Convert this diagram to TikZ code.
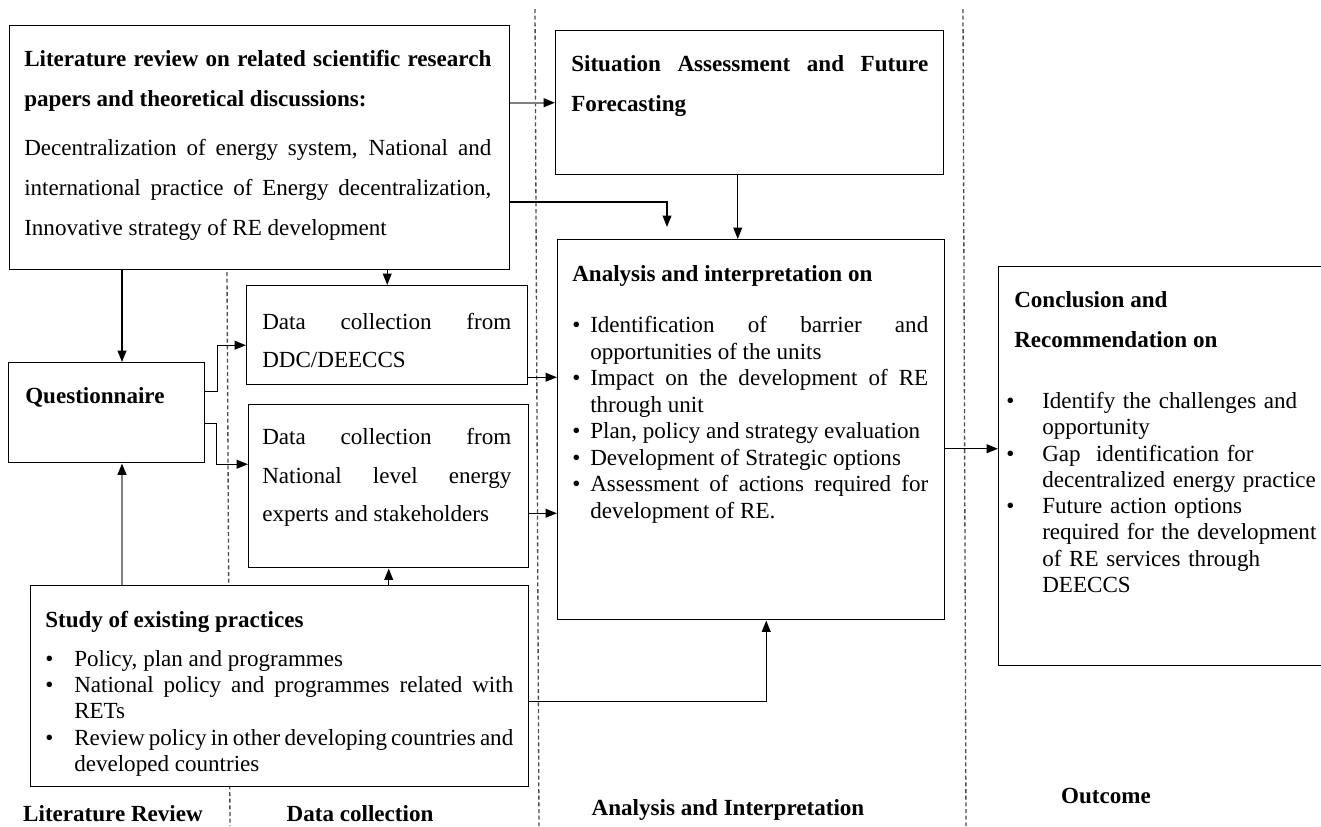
\documentclass[tikz,border=0pt]{standalone}
\usepackage{fontspec}
\setmainfont{Liberation Serif}
\usepackage{tikz}
\usetikzlibrary{arrows.meta,calc}
\setlength{\parindent}{0pt}
\setlength{\parskip}{0pt}

\newcommand{\bul}[1]{\par\noindent\hangindent=#1\hangafter=1\makebox[#1][l]{\textbullet}\ignorespaces}

\begin{document}
\begin{tikzpicture}[x=0.75pt,y=0.75pt,yscale=-1,xscale=1,
    blk/.style={draw=black, line width=1.1pt, fill=white, anchor=north west, inner sep=0pt},
    txt/.style={anchor=north west, inner sep=0pt, align=justify, font=\fontsize{17.3}{30}\selectfont},
    lst/.style={anchor=north west, inner sep=0pt, align=justify, font=\fontsize{17.3}{19.9}\selectfont},
    hd/.style={anchor=north west, inner sep=0pt, font=\bfseries\fontsize{17.3}{30}\selectfont},
    lbl/.style={anchor=base, inner sep=0pt, font=\bfseries\fontsize{17.3}{20}\selectfont},
    arr/.style={line width=1.1pt, -{Triangle[length=8.5pt,width=6.5pt]}},
    garr/.style={line width=1.5pt, draw=gray, -{Triangle[length=8.5pt,width=6.5pt,black]}},
    divline/.style={draw=black!70, line width=1pt, dash pattern=on 3pt off 2pt}]
    \useasboundingbox (0,0) rectangle (1321,826);

    %Straight Lines: column separators
    \draw[divline] (227,272) -- (230,826);
    \draw[divline] (535,9) -- (539,826);
    \draw[divline] (963,9) -- (966,826);

    %Shape: Rectangle (literature review)
    \node[blk, minimum width=375pt, minimum height=183pt] (lit) at (9,25) {};
    %Shape: Rectangle (situation)
    \node[blk, minimum width=291pt, minimum height=108pt] (sit) at (555,30) {};
    %Shape: Rectangle (analysis)
    \node[blk, minimum width=290.25pt, minimum height=285pt] (ana) at (557,239) {};
    %Shape: Rectangle (data collection DDC)
    \node[blk, minimum width=210.75pt, minimum height=74.25pt] (ddc) at (246,285) {};
    %Shape: Rectangle (data collection national)
    \node[blk, minimum width=210pt, minimum height=122.25pt] (nat) at (248,404) {};
    %Shape: Rectangle (questionnaire)
    \node[blk, minimum width=147pt, minimum height=75pt] (q) at (8,362) {};
    %Shape: Rectangle (study of practices)
    \node[blk, minimum width=373.5pt, minimum height=150.75pt] (stu) at (30,585) {};
    %Shape: Rectangle (conclusion)
    \node[blk, minimum width=249pt, minimum height=299.25pt] (conc) at (998,266) {};

    % Text Node
    \node[txt, text width=350.25pt] (littx) at (24,50) {{\bfseries Literature review on related scientific research\linebreak papers and theoretical discussions:}\par\vspace{6.75pt}Decentralization of energy system, National and\linebreak international practice of Energy decentralization,\linebreak Innovative strategy of RE development};
    % Text Node
    \node[txt, font=\bfseries\fontsize{17.3}{30}\selectfont, text width=267.75pt] (sittx) at (571,55) {Situation Assessment and Future Forecasting};
    % Text Node
    \node[lst, text width=267pt] (anatx) at (572,265) {\textbf{Analysis and interpretation on}\par\vspace{18.5pt}\bul{13.5pt}Identification of barrier and\linebreak opportunities of the units\bul{13.5pt}Impact on the development of RE\linebreak through unit\bul{13.5pt}Plan, policy and strategy evaluation\bul{13.5pt}Development of Strategic options\bul{13.5pt}Assessment of actions required for\linebreak development of RE.\par};
    % Text Node
    \node[txt, font=\fontsize{17.3}{28.5}\selectfont, text width=186.75pt] (ddctx) at (262,313) {Data collection from\linebreak DDC/DEECCS};
    % Text Node
    \node[txt, font=\fontsize{17.3}{29}\selectfont, text width=186.75pt] (nattx) at (262,428) {Data collection from\linebreak National level energy\linebreak experts and stakeholders};
    % Text Node
    \node[hd] (qtx) at (25,387) {Questionnaire};
    % Text Node
    \node[lst, font=\fontsize{17.3}{19.7}\selectfont, text width=351pt] (stutx) at (45,611) {\textbf{Study of existing practices}\par\vspace{9.5pt}\bul{21.75pt}Policy, plan and programmes\bul{21.75pt}National policy and programmes related with\linebreak RETs\bul{21.75pt}Review policy in other developing countries and\linebreak developed countries\par};
    % Text Node
    \node[hd, align=left] (conctx) at (1014,291) {Conclusion and\\Recommendation on};
    % Text Node
    \node[lst, align=left, font=\fontsize{17.3}{19.7}\selectfont, text width=234pt] (conclst) at (1006,382) {\bul{27pt}Identify the challenges and\newline opportunity\bul{27pt}Gap\ \ identification for\newline decentralized energy practice\bul{27pt}Future action options\newline required for the development\newline of RE services through\newline DEECCS\par};

    % Text Node: column titles
    \node[lbl] (lbllit) at (113,821) {Literature Review};
    \node[lbl] (lbldat) at (360,821) {Data collection};
    \node[lbl] (lblana) at (728,815) {Analysis and Interpretation};
    \node[lbl] (lblout) at (1106,803) {Outcome};

    %Connectors
    \coordinate (qcol) at (122,0);
    \coordinate (elbow) at (667,202);
    \coordinate (anatip) at (667,227);
    \coordinate (d1) at ($(ddc.east)+(0,42)$);
    \coordinate (n1) at ($(nat.east)+(0,27)$);
    \coordinate (s1) at ($(stu.east)+(0,15)$);
    \coordinate (a1) at ($(ana.east)+(0,19)$);

    \draw[garr] (lit.east |- sit.west) -- (sit.west);
    \draw[arr] (lit.east |- elbow) -- (elbow) -- (anatip);
    \draw[arr] ($(sit.south)+(-12,0)$) -- ($(sit.south |- ana.north)+(-12,0)$);
    \draw[arr] (lit.south -| ddc.north) -- (ddc.north);
    \draw[arr] (lit.south -| qcol) -- (q.north -| qcol);
    \draw[garr] (stu.north -| qcol) -- (q.south -| qcol);
    \draw[arr] (stu.north -| nat.south) -- (nat.south);
    \draw[arr] ($(q.east)+(0,-21)$) -- ++(12,0) |- ($(ddc.west)+(0,10)$);
    \draw[arr] ($(q.east)+(0,11)$) -- ++(11,0) |- ($(nat.west)+(0,-22)$);
    \draw[arr] (d1) -- (d1 -| ana.west);
    \draw[arr] (n1) -- (n1 -| ana.west);
    \draw[arr] (s1) -| ($(ana.south)+(15,0)$);
    \draw[arr] (a1) -- (a1 -| conc.west);

\end{tikzpicture}
\end{document}
